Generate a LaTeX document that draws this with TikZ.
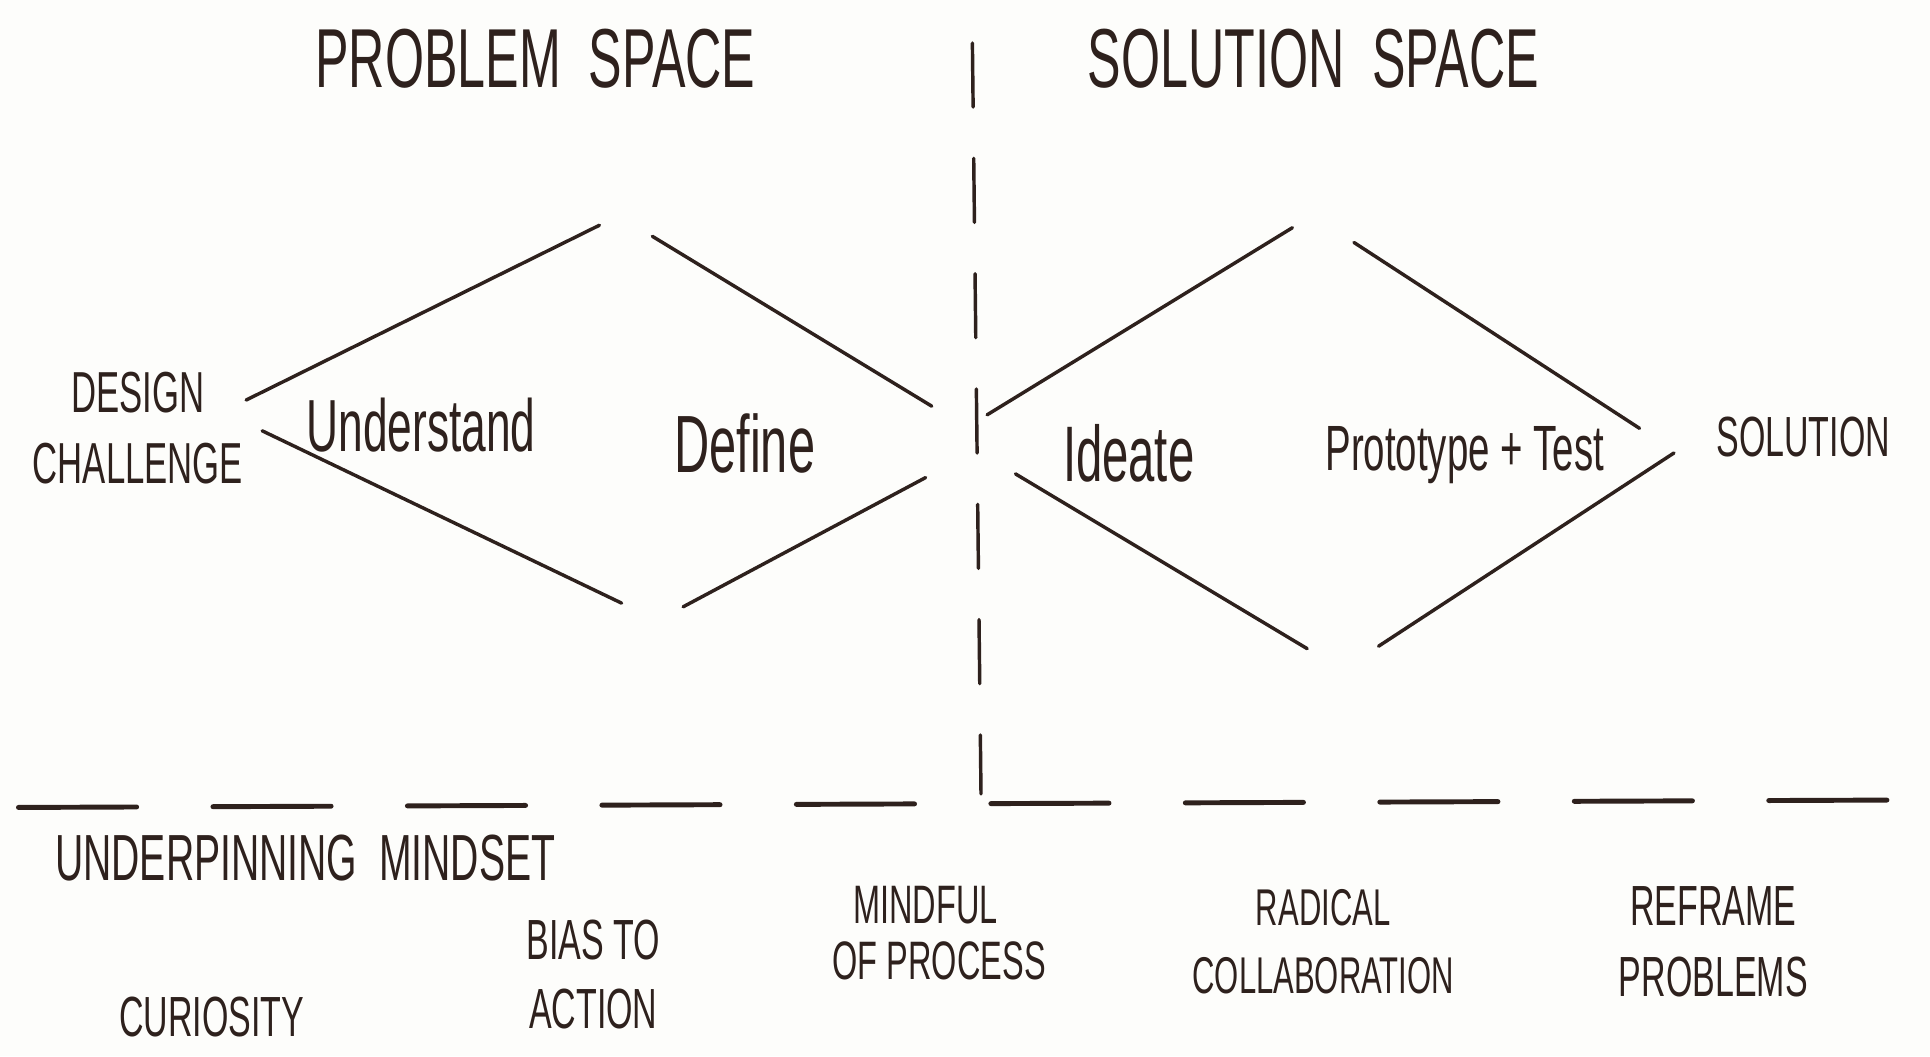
\documentclass[tikz,border=0pt]{standalone}
\usepackage{fontspec}
\newfontfamily\hand[FakeStretch=0.6]{Liberation Sans}
\definecolor{ink}{HTML}{2E211D}
\definecolor{paper}{HTML}{FDFDFB}
\begin{document}
\begin{tikzpicture}[x=1pt,y=-1pt,
  pen/.style={draw=ink,line width=2.8pt,line cap=round},
  lbl/.style={text=ink,inner sep=0pt,align=center,font=\hand},
  big/.style={lbl,font=\hand\fontsize{68}{62}\selectfont},
  low/.style={lbl,font=\hand\fontsize{46}{50}\selectfont}]
\fill[paper] (0,0) rectangle (1568,858);
\useasboundingbox (0,0) rectangle (1568,858);
% titles
\node[big] (ps) at (435,48) {PROBLEM\ \ SPACE};
\node[big] (ss) at (1067,48) {SOLUTION\ \ SPACE};
% vertical divider
\coordinate (vt) at (790,35);
\coordinate (vb) at (797,645);
\draw[pen,dash pattern=on 52pt off 41.7pt] (vt) -- (vb);
% horizontal divider
\coordinate (hl) at (15,656);
\coordinate (hr) at (1535,650);
\draw[pen,line width=4pt,dash pattern=on 96pt off 62pt] (hl) -- (hr);
% left diamond
\coordinate (a1) at (200,325); \coordinate (a2) at (487,183);
\coordinate (b1) at (530,192); \coordinate (b2) at (757,330);
\coordinate (c1) at (213,350); \coordinate (c2) at (505,490);
\coordinate (d1) at (555,493); \coordinate (d2) at (752,388);
\draw[pen] (a1) -- (a2);
\draw[pen] (b1) -- (b2);
\draw[pen] (c1) -- (c2);
\draw[pen] (d1) -- (d2);
% right diamond
\coordinate (e1) at (802,337); \coordinate (e2) at (1050,185);
\coordinate (f1) at (1100,197); \coordinate (f2) at (1332,348);
\coordinate (g1) at (825,385); \coordinate (g2) at (1062,527);
\coordinate (h1) at (1120,525); \coordinate (h2) at (1360,368);
\draw[pen] (e1) -- (e2);
\draw[pen] (f1) -- (f2);
\draw[pen] (g1) -- (g2);
\draw[pen] (h1) -- (h2);
% diamond labels
\node[lbl,font=\hand\fontsize{47}{58}\selectfont] (dc) at (112,348) {DESIGN\\CHALLENGE};
\node[lbl,font=\hand\fontsize{60}{60}\selectfont] (und) at (342,345) {Understand};
\node[lbl,font=\hand\fontsize{66}{60}\selectfont] (def) at (605,360) {Define};
\node[lbl,font=\hand\fontsize{64}{60}\selectfont] (ide) at (917,368) {Ideate};
\node[lbl,font=\hand\fontsize{52}{50}\selectfont] (pt) at (1190,370) {Prototype + Test};
\node[lbl,font=\hand\fontsize{46}{50}\selectfont] (sol) at (1465,355) {SOLUTION};
% mindset
\node[lbl,font=\hand\fontsize{53}{50}\selectfont] (um) at (248,697) {UNDERPINNING\ \ MINDSET};
\node[low] (cur) at (172,826) {CURIOSITY};
\node[low,font=\hand\fontsize{46}{56}\selectfont] (bias) at (482,792) {BIAS TO\\ACTION};
\node[low,font=\hand\fontsize{44}{46}\selectfont] (mind) at (752,758) {MINDFUL\\\ \ \ OF PROCESS};
\node[low,font=\hand\fontsize{42}{55}\selectfont] (rad) at (1075,765) {RADICAL\\COLLABORATION};
\node[low,font=\hand\fontsize{46}{58}\selectfont] (ref) at (1392,765) {REFRAME\\PROBLEMS};
\end{tikzpicture}
\end{document}
